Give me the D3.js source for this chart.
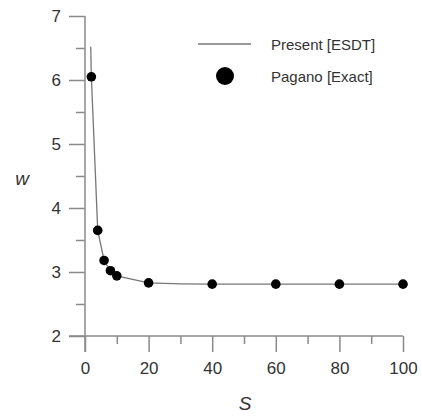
<!DOCTYPE html>
<html><head><meta charset="utf-8">
<script src="https://cdn.jsdelivr.net/npm/d3@7"></script>
<style>body{margin:0;background:#fff}svg{display:block}</style>
</head><body>
<script>
// Data
const lineS = [1.8, 2, 4, 6, 8, 10, 20, 30, 40, 60, 80, 100];
const lineW = [6.52, 6.05, 3.65, 3.18, 3.02, 2.94, 2.83, 2.815, 2.81, 2.81, 2.81, 2.81];
const pointS = [2, 4, 6, 8, 10, 20, 40, 60, 80, 100];
const pointW = [6.05, 3.65, 3.18, 3.02, 2.94, 2.83, 2.81, 2.81, 2.81, 2.81];
const xTicks = [0, 20, 40, 60, 80, 100];
const yTicks = [2, 3, 4, 5, 6, 7];
const seriesNames = ["Present [ESDT]", "Pagano [Exact]"];

const W = 422, H = 417;
const svg = d3.select("body").append("svg").attr("width", W).attr("height", H);
const x = d3.scaleLinear().domain([0, 100]).range([85, 403]);
const y = d3.scaleLinear().domain([2, 7]).range([336, 16]);
const axisCol = "#8a8a8a", textCol = "#333";
const font = "Liberation Sans, Arial, sans-serif";

// X axis
const gx = svg.append("g").attr("transform", `translate(0,${y(2)})`);
gx.call(d3.axisBottom(x).tickValues(d3.range(10, 100, 20)).tickSize(8).tickFormat(""));
gx.call(g => g.select(".domain").remove());
const gx2 = svg.append("g").attr("transform", `translate(0,${y(2)})`)
  .call(d3.axisBottom(x).tickValues(xTicks).tickSize(16).tickSizeOuter(0).tickPadding(10).tickFormat(d3.format("d")));
gx2.select(".domain").attr("d", `M${x(0)-16},0H${x(100)}`);
// Y axis
const gy = svg.append("g").attr("transform", `translate(${x(0)},0)`);
gy.call(d3.axisLeft(y).tickValues(d3.range(2.5, 7, 1)).tickSize(9).tickFormat(""));
gy.call(g => g.select(".domain").remove());
const gy2 = svg.append("g").attr("transform", `translate(${x(0)},0)`)
  .call(d3.axisLeft(y).tickValues(yTicks).tickSize(16).tickSizeOuter(0).tickPadding(8).tickFormat(d3.format("d")));
gy2.select(".domain").attr("d", `M0,${y(7)}V${y(2)+16}`);

svg.selectAll(".tick line, .domain").attr("stroke", axisCol).attr("stroke-width", 1.5);
svg.selectAll(".tick text").attr("fill", textCol).style("font-family", font).style("font-size", "17px");

// Line
const lineData = lineS.map((s, i) => [s, lineW[i]]);
svg.append("path").datum(lineData)
  .attr("d", d3.line().x(d => x(d[0])).y(d => y(d[1])))
  .attr("fill", "none").attr("stroke", "#777").attr("stroke-width", 1.3);

// Points
svg.selectAll("circle.pt").data(pointS.map((s, i) => [s, pointW[i]])).join("circle")
  .attr("class", "pt").attr("cx", d => x(d[0])).attr("cy", d => y(d[1])).attr("r", 4.8).attr("fill", "#000");

// Axis titles
svg.append("text").attr("x", 245).attr("y", 410).attr("text-anchor", "middle")
  .style("font-family", font).style("font-size", "19px").style("font-style", "italic").attr("fill", textCol).text("S");
svg.append("text").attr("x", 22).attr("y", 185).attr("text-anchor", "middle")
  .style("font-family", font).style("font-size", "19px").style("font-style", "italic").attr("fill", textCol).text("w");

// Legend
svg.append("line").attr("x1", 198).attr("x2", 251).attr("y1", 44).attr("y2", 44).attr("stroke", "#777").attr("stroke-width", 1.3);
svg.append("circle").attr("cx", 225).attr("cy", 76).attr("r", 9).attr("fill", "#000");
svg.append("text").attr("x", 271).attr("y", 50).style("font-family", font).style("font-size", "15px").attr("fill", textCol).text(seriesNames[0]);
svg.append("text").attr("x", 271).attr("y", 82).style("font-family", font).style("font-size", "15px").attr("fill", textCol).text(seriesNames[1]);
</script>
</body></html>
